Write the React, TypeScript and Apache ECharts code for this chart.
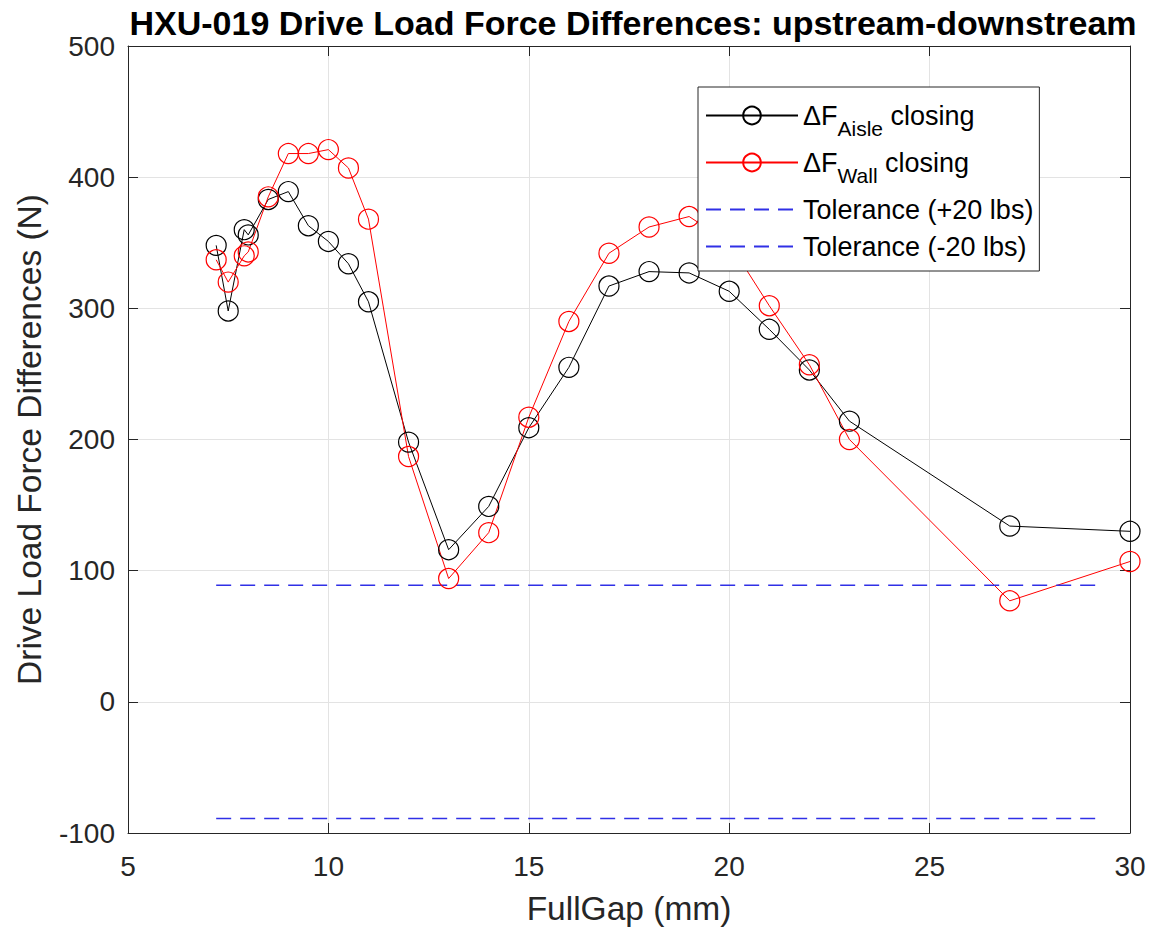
import React, { useEffect, useRef } from "react";
import * as echarts from "echarts";

const gapX = [7.2, 7.5, 7.9, 8.0, 8.5, 9, 9.5, 10, 10.5, 11, 12, 13, 14, 15, 16, 17, 18, 19, 20, 21, 22, 23, 27, 30];
const aisleY = [348, 298, 360, 356, 383, 389, 363, 351, 334, 305, 198, 116, 149, 209, 255, 317, 328, 327, 313, 284, 253, 214, 134, 130];
const wallY = [337, 320, 340, 343, 385, 418, 418, 421, 407, 368, 187, 94, 129, 217, 290, 342, 362, 370, 350, 302, 257, 200, 77, 107];
const tolX = [7.2, 29.15];
const tolPlus = [88.96, 88.96];
const tolMinus = [-88.96, -88.96];
const xTicks = [5, 10, 15, 20, 25, 30];
const yTicks = [-100, 0, 100, 200, 300, 400, 500];

const FONT = "'Liberation Sans', Arial, Helvetica, sans-serif";
const AX = "#262626";
const BLUE = "#3030e6";

const legendText: Record<string, string> = {
  aisle: "{m|\u0394F}{s|Aisle}{m| closing}",
  wall: "{m|\u0394F}{s|Wall}{m| closing}",
  tolP: "{m|Tolerance (+20 lbs)}",
  tolN: "{m|Tolerance (-20 lbs)}",
};

export default function App() {
  const ref = useRef<HTMLDivElement>(null);
  useEffect(() => {
    if (!ref.current) return;
    const chart = echarts.init(ref.current, null, { renderer: "svg" });
    const pairs = (xs: number[], ys: number[]) => xs.map((x, i) => [x, ys[i]]);
    const axisCommon = {
      type: "value" as const,
      axisLine: { show: true, onZero: false, lineStyle: { color: AX, width: 1 } },
      axisTick: { show: true, inside: true, length: 10, lineStyle: { color: AX } },
    };
    const hidden = { color: "rgba(0,0,0,0)", borderColor: "rgba(0,0,0,0)", borderWidth: 0 };
    chart.setOption({
      animation: false,
      backgroundColor: "#fff",
      title: {
        text: "HXU-019 Drive Load Force Differences: upstream-downstream",
        left: 628,
        textAlign: "center",
        top: 1,
        textStyle: { fontFamily: FONT, fontSize: 34, fontWeight: "bold", color: "#000" },
      },
      grid: { left: 128, top: 46, width: 1002, height: 787, containLabel: false },
      xAxis: [
        {
          ...axisCommon,
          position: "bottom",
          min: xTicks[0],
          max: xTicks[xTicks.length - 1],
          interval: 5,
          name: "FullGap (mm)",
          nameLocation: "middle",
          nameGap: 58,
          nameTextStyle: { fontFamily: FONT, fontSize: 33.5, color: AX },
          axisLabel: { fontFamily: FONT, fontSize: 28, color: AX, margin: 19 },
          splitLine: { show: true, lineStyle: { color: "#e3e3e3", width: 1 } },
        },
        {
          ...axisCommon,
          position: "top",
          min: xTicks[0],
          max: xTicks[xTicks.length - 1],
          interval: 5,
          axisLabel: { show: false },
          splitLine: { show: false },
        },
      ],
      yAxis: [
        {
          ...axisCommon,
          position: "left",
          min: yTicks[0],
          max: yTicks[yTicks.length - 1],
          interval: 100,
          name: "Drive Load Force Differences (N)",
          nameLocation: "middle",
          nameGap: 82,
          nameTextStyle: { fontFamily: FONT, fontSize: 33.5, color: AX },
          axisLabel: { fontFamily: FONT, fontSize: 28, color: AX, margin: 13 },
          splitLine: { show: true, lineStyle: { color: "#e3e3e3", width: 1 } },
        },
        {
          ...axisCommon,
          position: "right",
          min: yTicks[0],
          max: yTicks[yTicks.length - 1],
          interval: 100,
          axisLabel: { show: false },
          splitLine: { show: false },
        },
      ],
      legend: {
        orient: "vertical",
        left: 698,
        top: 87,
        backgroundColor: "#fff",
        borderColor: AX,
        borderWidth: 1,
        borderRadius: 0,
        padding: [15, 6, 11, 7],
        itemWidth: 92,
        itemHeight: 22,
        itemGap: 10,
        data: [
          { name: "aisle" },
          { name: "wall" },
          { name: "tolP", itemStyle: hidden },
          { name: "tolN", itemStyle: hidden },
        ],
        formatter: (n: string) => legendText[n],
        textStyle: {
          fontFamily: FONT,
          fontSize: 27,
          color: "#000",
          rich: {
            m: { fontFamily: FONT, fontSize: 27, color: "#000" },
            s: { fontFamily: FONT, fontSize: 21, color: "#000", padding: [26, 0, 0, 0] },
          },
        },
      },
      series: [
        {
          name: "aisle",
          type: "line",
          data: pairs(gapX, aisleY),
          symbol: "circle",
          symbolSize: 20,
          showAllSymbol: true,
          lineStyle: { color: "#000", width: 1 },
          itemStyle: { color: "rgba(0,0,0,0)", borderColor: "#000", borderWidth: 1.2 },
          z: 3,
        },
        {
          name: "wall",
          type: "line",
          data: pairs(gapX, wallY),
          symbol: "circle",
          symbolSize: 20,
          showAllSymbol: true,
          lineStyle: { color: "#ff0000", width: 1 },
          itemStyle: { color: "rgba(0,0,0,0)", borderColor: "#ff0000", borderWidth: 1.2 },
          z: 3,
        },
        {
          name: "tolP",
          type: "line",
          data: pairs(tolX, tolPlus),
          symbol: "none",
          lineStyle: { color: BLUE, width: 1.5, type: [15, 9] },
          itemStyle: { color: BLUE },
        },
        {
          name: "tolN",
          type: "line",
          data: pairs(tolX, tolMinus),
          symbol: "none",
          lineStyle: { color: BLUE, width: 1.5, type: [15, 9] },
          itemStyle: { color: BLUE },
        },
      ],
    });
    return () => chart.dispose();
  }, []);
  return (
    <div
      ref={ref}
      style={{ position: "fixed", left: 0, top: 0, width: 1156, height: 934, background: "#fff" }}
    />
  );
}
